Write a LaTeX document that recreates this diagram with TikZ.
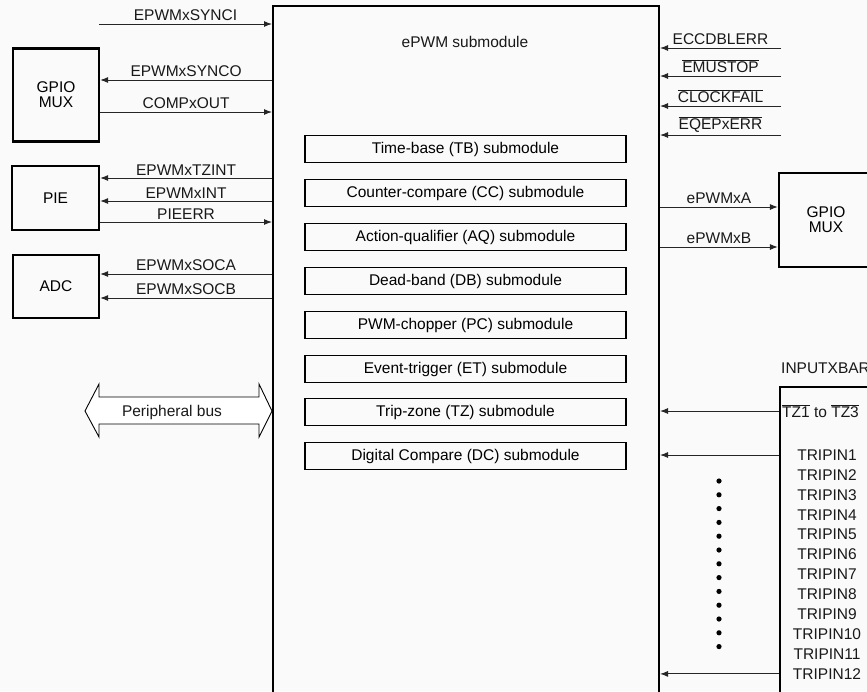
\documentclass[tikz,border=0pt]{standalone}
\usepackage{fontspec}
\setmainfont{Liberation Sans}
\usetikzlibrary{arrows.meta}
\newcommand\ovl[1]{$\overline{\mbox{#1}}$}
\begin{document}
\begin{tikzpicture}[x=1pt,y=-1pt,
  font=\fontsize{15.5}{18}\selectfont,
  sig/.style={line width=1pt, draw=black!85, -{Latex[length=8pt,width=6pt]}},
  blk/.style={draw, line width=2.2pt, fill=gray!4, align=center, inner sep=0pt},
  subbox/.style={draw, line width=1.5pt, minimum width=321pt, minimum height=27pt, inner sep=0pt},
  lbl/.style={above, inner sep=2.5pt, text=black!90},
  txt/.style={inner sep=0pt, text=black!90}]
\useasboundingbox (0,0) rectangle (867,691);
\fill[gray!4] (0,0) rectangle (867,691);

% main ePWM box
\node[draw, line width=2pt, minimum width=386pt, minimum height=720pt, anchor=north west, inner sep=0pt] (epwm) at (272,5) {};
\node[txt] (title) at (465,42) {ePWM submodule};

% submodules
\node[subbox] (tb) at (465.5,149) {Time-base (TB) submodule};
\node[subbox] (cc) at (465.5,193) {Counter-compare (CC) submodule};
\node[subbox] (aq) at (465.5,237) {Action-qualifier (AQ) submodule};
\node[subbox] (db) at (465.5,281) {Dead-band (DB) submodule};
\node[subbox] (pc) at (465.5,325) {PWM-chopper (PC) submodule};
\node[subbox] (et) at (465.5,369) {Event-trigger (ET) submodule};
\node[subbox] (tz) at (465.5,412) {Trip-zone (TZ) submodule};
\node[subbox] (dc) at (465.5,456) {Digital Compare (DC) submodule};

% left blocks
\node[blk, minimum width=86pt, minimum height=93pt] (gpl) at (56,95) {GPIO\\[-3pt]MUX};
\node[blk, minimum width=87pt, minimum height=64pt] (pie) at (55.5,198) {PIE};
\node[blk, minimum width=86pt, minimum height=63pt] (adc) at (56,286.5) {ADC};

% left signals
\coordinate (synci) at (99,24);
\draw[sig] (synci) -- (synci -| epwm.west) node[midway,lbl] {EPWMxSYNCI};
\draw[sig] (epwm.west |- 0,80) -- (gpl.east |- 0,80) node[midway,lbl] {EPWMxSYNCO};
\draw[sig] (gpl.east |- 0,112) -- (epwm.west |- 0,112) node[midway,lbl] {COMPxOUT};
\draw[sig] (epwm.west |- 0,178) -- (pie.east |- 0,178) node[midway,lbl] {EPWMxTZINT};
\draw[sig] (epwm.west |- 0,201) -- (pie.east |- 0,201) node[midway,lbl] {EPWMxINT};
\draw[sig] (pie.east |- 0,222) -- (epwm.west |- 0,222) node[midway,lbl] {PIEERR};
\draw[sig] (epwm.west |- 0,274) -- (adc.east |- 0,274) node[midway,lbl] {EPWMxSOCA};
\draw[sig] (epwm.west |- 0,298) -- (adc.east |- 0,298) node[midway,lbl] {EPWMxSOCB};

% peripheral bus
\draw[line width=0.9pt, fill=white] (85,411) -- (99,384) -- (99,397) -- (259,397) -- (259,384) -- (272,411)
  -- (259,437) -- (259,424) -- (99,424) -- (99,437) -- cycle;
\node[txt] (bus) at (172,412) {Peripheral bus};

% right signals into ePWM
\coordinate (ecc) at (781,48);
\coordinate (emu) at (781,76);
\coordinate (clk) at (781,106);
\coordinate (eqe) at (781,135);
\draw[sig] (ecc) -- (ecc -| epwm.east) node[midway,lbl] {ECCDBLERR};
\draw[sig] (emu) -- (emu -| epwm.east) node[midway,lbl] {\ovl{EMUSTOP}};
\draw[sig] (clk) -- (clk -| epwm.east) node[midway,lbl] {\ovl{CLOCKFAIL}};
\draw[sig] (eqe) -- (eqe -| epwm.east) node[midway,lbl] {\ovl{EQEPxERR}};

% right GPIO MUX
\node[blk, minimum width=94pt, minimum height=94pt] (gpr) at (826,220) {GPIO\\[-3pt]MUX};
\draw[sig] (epwm.east |- 0,207) -- (gpr.west |- 0,207) node[midway,lbl] {ePWMxA};
\draw[sig] (epwm.east |- 0,247) -- (gpr.west |- 0,247) node[midway,lbl] {ePWMxB};

% INPUTXBAR
\node[txt, anchor=west] (ixlbl) at (781,368) {INPUTXBAR};
\node[draw, line width=2.2pt, minimum width=94pt, minimum height=330pt, anchor=north west, inner sep=0pt] (ixb) at (779,386) {};
\node[txt, anchor=west] (tzr) at (782,411) {\ovl{TZ1} to \ovl{TZ3}};
\foreach \i in {1,...,12} {
  \node[txt] (tp\i) at (827,{455+19.9*(\i-1)}) {TRIPIN\i};
}
\draw[sig] (ixb.west |- tzr) -- (epwm.east |- tzr);
\draw[sig] (ixb.west |- tp1) -- (epwm.east |- tp1);
\draw[sig] (ixb.west |- tp12) -- (epwm.east |- tp12);
\foreach \i in {0,...,12} {
  \fill (719,{481+13.8*\i}) circle (2.6pt);
}
\end{tikzpicture}
\end{document}
